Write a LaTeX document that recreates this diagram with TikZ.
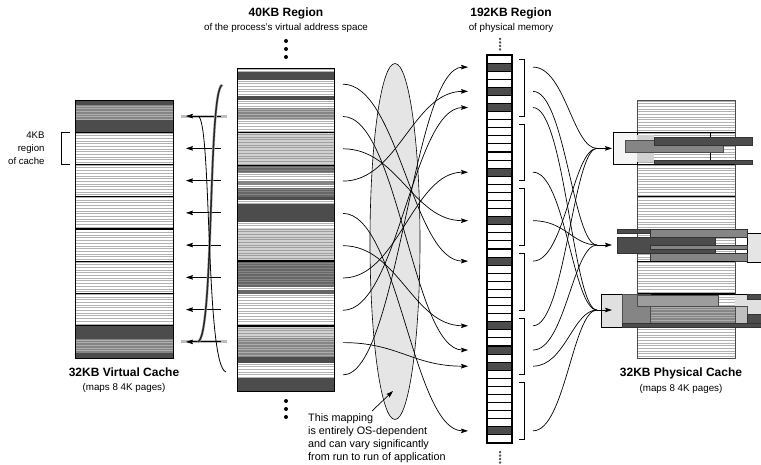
\documentclass[tikz,border=0pt]{standalone}
\usepackage{fontspec}
\setmainfont{Liberation Sans}
\usetikzlibrary{arrows.meta}

\definecolor{darkc}{gray}{0.30}
\definecolor{dgc}{gray}{0.40}
\definecolor{midc}{gray}{0.52}
\definecolor{lightc}{gray}{0.82}
\definecolor{ellc}{gray}{0.90}
\definecolor{stripeW}{gray}{0.70}
\definecolor{stripeL}{gray}{0.62}
\definecolor{stripeM}{gray}{0.68}
\definecolor{stripeD}{gray}{0.52}

% a horizontal band of a memory column: x1, x2, y1, y2, fill, stripe colour (empty = solid)
\newcommand\band[6]{%
  \fill[#5] (#1,#3) rectangle (#2,#4);
  \ifx\relax#6\relax\else
  \begin{scope}
    \clip (#1,#3) rectangle (#2,#4);
    \pgfmathsetmacro\bandA{#3+0.9}\pgfmathsetmacro\bandB{#3+0.9+2.69}
    \foreach \yy in {\bandA,\bandB,...,#4}{\draw[#6,line width=0.75pt] (#1,\yy) -- (#2,\yy);}
  \end{scope}\fi}

\begin{document}
\begin{tikzpicture}[x=1pt,y=-1pt,
  tip/.style={-{Stealth[length=7pt,width=4.6pt,inset=1.2pt]}},
  map/.style={line width=0.7pt,tip},
  wire/.style={line width=0.7pt},
  title/.style={font=\fontsize{12}{14}\selectfont\bfseries,anchor=base},
  sub/.style={font=\fontsize{9.8}{12}\selectfont,anchor=base},
  note/.style={font=\fontsize{10.8}{13.2}\selectfont,align=left,anchor=north west,inner sep=0pt},
  tinydot/.style={draw=black!80,line width=0.5pt}]

\useasboundingbox (0,0) rectangle (761,465);

% ---------------- titles ----------------
\node[title] (tvr) at (286,17) {40KB Region};
\node[sub]   (svr) at (286,31) {of the process’s virtual address space};
\node[title] (tpr) at (511,17) {192KB Region};
\node[sub]   (spr) at (511,31) {of physical memory};
\node[title] (tvc) at (124,376) {32KB Virtual Cache};
\node[sub]   (svc) at (124,390) {(maps 8 4K pages)};
\node[title] (tpc) at (681,377) {32KB Physical Cache};
\node[sub]   (spc) at (681,391) {(maps 8 4K pages)};

% ---------------- virtual cache ----------------
\band{75}{173}{100}{105}{darkc}{}
\band{75}{173}{105}{120}{midc}{stripeM}
\band{75}{173}{120}{132}{darkc}{}
\band{75}{173}{132}{326}{white}{stripeW}
\band{75}{173}{326}{339}{darkc}{}
\band{75}{173}{339}{353}{midc}{stripeM}
\band{75}{173}{353}{358}{darkc}{}
\foreach \r in {1,...,7}{\draw[line width=1.1pt] (75,{100+32.25*\r}) -- (173,{100+32.25*\r});}
\draw[line width=0.8pt] (75,100) rectangle (173,358);

% 4KB label
\draw[line width=0.9pt] (70,132.5) -- (61,132.5) -- (61,164) -- (70,164);
\node[font=\fontsize{9.6}{13}\selectfont,align=right,anchor=east] (lab4) at (48,148) {4KB\\region\\of cache};

% ---------------- virtual region (10 pages) ----------------
\band{237}{334}{68}{72}{white}{stripeW}
\band{237}{334}{72}{80}{darkc}{}
\band{237}{334}{80}{96.5}{white}{stripeW}
\band{237}{334}{96.5}{100}{darkc}{}
\band{237}{334}{100}{108}{white}{stripeW}
\band{237}{334}{108}{120}{midc}{stripeM}
\band{237}{334}{120}{132}{white}{stripeW}
\band{237}{334}{132}{133.5}{black}{}
\band{237}{334}{133.5}{165}{lightc}{stripeL}
\band{237}{334}{165}{166.5}{black}{}
\band{237}{334}{166.5}{173}{dgc}{stripeD}
\band{237}{334}{173}{181}{white}{stripeW}
\band{237}{334}{181}{185}{midc}{}
\band{237}{334}{185}{188}{white}{stripeW}
\band{237}{334}{188}{197}{dgc}{stripeD}
\band{237}{334}{197}{200}{darkc}{}
\band{237}{334}{200}{204}{white}{stripeW}
\band{237}{334}{204}{222}{darkc}{}
\band{237}{334}{222}{228}{white}{stripeW}
\band{237}{334}{228}{260}{lightc}{stripeL}
\band{237}{334}{260}{262}{black}{}
\band{237}{334}{262}{287}{dgc}{stripeD}
\band{237}{334}{287}{290}{white}{stripeW}
\band{237}{334}{290}{294}{dgc}{}
\band{237}{334}{294}{325}{white}{stripeW}
\band{237}{334}{325}{327}{black}{}
\band{237}{334}{327}{338}{lightc}{stripeL}
\band{237}{334}{338}{357}{midc}{stripeM}
\band{237}{334}{357}{363}{darkc}{}
\band{237}{334}{363}{378}{white}{stripeW}
\band{237}{334}{378}{391}{darkc}{}
\draw[line width=0.8pt] (237,68) rectangle (334,391);

\foreach \y in {41,49,57,401,409,417}{\fill (286,\y) circle[radius=2pt];}

% ---------------- arrows into the virtual cache ----------------
\draw[line width=3pt,black!25] (181,116.1) -- (227,116.1);
\draw[line width=3pt,black!25] (181,341.9) -- (227,341.9);
\foreach \i in {0,...,7}{
  \coordinate (a\i) at (221,{116.1+32.25*\i});
  \coordinate (b\i) at (186,{116.1+32.25*\i});
  \draw[map] (a\i) -- (b\i);
}
% wrap-around of the first and last pages
\coordinate (wt) at (222,85);
\coordinate (wb) at (226,372);
\draw[line width=2.6pt,black!30] (wt) .. controls (208,92) and (214,336) .. ([xshift=12pt]b7);
\draw[line width=1.5pt,black!85] (wt) .. controls (208,92) and (214,336) .. ([xshift=12pt]b7);
\draw[line width=0.8pt] ([xshift=12pt]b0) .. controls (212,118) and (205,366) .. (wb);

% ---------------- mapping ellipse ----------------
\filldraw[fill=ellc,draw=black,line width=0.6pt] (395,241.5) ellipse [x radius=25, y radius=178];

% ---------------- physical memory (48 pages) ----------------
\foreach \k in {0,...,47}{
  \draw[line width=1.1pt,fill=white] (487,{55+8.083*\k}) rectangle (512,{55+8.083*(\k+1)});
}
\foreach \k in {1,4,6,14,20,25,33,36,38,46}{
  \filldraw[fill=darkc,draw=black,line width=1.1pt] (487,{55+8.083*\k}) rectangle (512,{55+8.083*(\k+1)});
}
\foreach \b in {0,...,5}{
  \draw[line width=0.8pt] (519,{55+64.67*\b+4.5}) -- (524,{55+64.67*\b+4.5}) -- (524,{55+64.67*(\b+1)-3.5}) -- (519,{55+64.67*(\b+1)-3.5});
}
\foreach \y in {39,42.5,46,49.5,452,455.5,459,462.5}{\draw[tinydot] (500,\y) circle[radius=0.9pt];}

% ---------------- coordinates of the mapping ----------------
\foreach \i in {0,...,9}{\coordinate (v\i) at (343,{84.2+32.3*\i});}
\foreach \k in {1,4,6,14,20,25,33,36,38,46}{
  \coordinate (p\k) at (468,{59.04+8.083*\k});
  \coordinate (q\k) at (533,{59.04+8.083*\k});
}

% virtual page -> physical page
\foreach \i/\k in {0/25,1/36,2/20,3/4,4/46,5/33,6/14,7/6,8/38,9/1}{
  \draw[map] (v\i) .. controls +(55,0) and +(-55,0) .. (p\k);
}

% annotation
\node[note] (nt) at (308,413) {This mapping\\is entirely OS-dependent\\and can vary significantly\\from run to run of application};
\coordinate (ns) at (372,411);
\coordinate (ne) at (393,391);
\draw[map] (ns) -- (ne);

% ---------------- physical cache ----------------
\band{637}{735}{100}{358}{white}{stripeW}
\foreach \r in {1,...,7}{\draw[line width=0.9pt] (637,{100+32.25*\r}) -- (735,{100+32.25*\r});}
\draw[line width=0.6pt,black!70] (637,100) rectangle (735,358);

% set 1 : three pages
\filldraw[fill=black!4,draw=black,line width=0.6pt] (613,132.3) rectangle (637,164.5);
\fill[lightc] (637,135) rectangle (654,162);
\draw[line width=0.6pt] (637,132.3) -- (735,132.3);
\draw[line width=0.6pt] (710,132.3) -- (710,164.5);
\filldraw[fill=midc,draw=black!70,line width=0.6pt] (625,140) rectangle (723,152.5);
\filldraw[fill=darkc,draw=black!80,line width=0.6pt] (654,137) rectangle (752,145);
\filldraw[fill=darkc,draw=black!80,line width=0.6pt] (654,160) rectangle (752,164.5);
\draw[line width=1.2pt] (613,164.5) -- (735,164.5);

% set 4 : three pages
\filldraw[fill=black!10,draw=black,line width=0.6pt] (761,233) -- (747,233) -- (747,262) -- (761,262);
\filldraw[fill=darkc,draw=black!80,line width=0.6pt] (617,229) rectangle (650,233);
\filldraw[fill=midc,draw=black!80,line width=0.6pt] (650,229) rectangle (747,237);
\filldraw[fill=darkc,draw=black!80,line width=0.6pt] (617,237) rectangle (715,253);
\filldraw[fill=midc,draw=black!80,line width=0.6pt] (650,245) rectangle (747,249);
\filldraw[fill=midc,draw=black!80,line width=0.6pt] (650,253) rectangle (747,261.5);
\draw[line width=1.2pt] (637,261.5) -- (735,261.5);

% set 6 : four pages
\filldraw[fill=black!12,draw=black,line width=0.6pt] (761,294) -- (601,294) -- (601,327) -- (761,327);
\band{637}{735}{296}{326}{white}{stripeW}
\filldraw[fill=midc,draw=black!70,line width=0.6pt] (622,294) rectangle (650,323);
\filldraw[fill=midc!80,draw=black!70,line width=0.6pt] (637,295) rectangle (718,306);
\band{650}{735}{306}{323}{midc}{stripeM}
\filldraw[fill=black!25,draw=black!70,line width=0.6pt] (735,306) rectangle (747,323);
\draw[black!70,line width=0.6pt] (650,306) rectangle (747,323);
\filldraw[fill=darkc,draw=black!80,line width=0.6pt] (747,294) rectangle (761,299);
\filldraw[fill=darkc,draw=black!80,line width=0.6pt] (747,314) rectangle (761,323);
\filldraw[fill=darkc,draw=black!80,line width=0.6pt] (622,323) rectangle (761,327);

% ---------------- physical page -> physical cache set ----------------
\coordinate (c1) at (597,148.4);
\coordinate (c4) at (597,245);
\coordinate (c6) at (597,310);
\coordinate (t1) at (612,148.4);
\coordinate (t4) at (612,245);
\coordinate (t6) at (612,310);
\foreach \k/\c in {1/1,25/1,33/1,4/4,20/4,36/4,6/6,14/6,38/6,46/6}{
  \draw[wire] (q\k) .. controls +(32,0) and +(-24,0) .. (c\c);
}
\draw[map] (c1) -- (t1);
\draw[map] (c4) -- (t4);
\draw[map] (c6) -- (t6);

\end{tikzpicture}
\end{document}
